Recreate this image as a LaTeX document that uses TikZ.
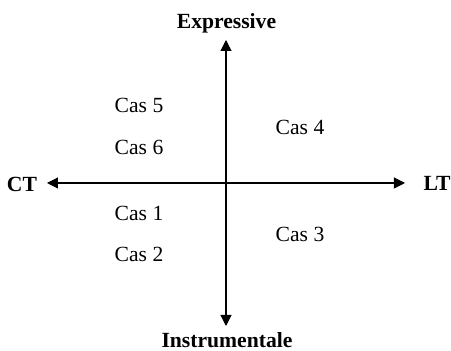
\documentclass[tikz,border=0pt]{standalone}
\usepackage{fontspec}
\setmainfont{Liberation Serif}
\usetikzlibrary{arrows.meta}

\begin{document}
\begin{tikzpicture}[
    every node/.style={font=\fontsize{12.3}{14}\selectfont, inner sep=0pt},
    axis/.style={black, line width=0.6pt, {Triangle[length=0.22cm, width=0.22cm]}-{Triangle[length=0.22cm, width=0.22cm]}},
    pole/.style={font=\fontsize{12.3}{14}\selectfont\bfseries},
    cas/.style={anchor=center},
]

\useasboundingbox (0, 0) rectangle (9.02, 7.02);

% ============================================================ the two axes
\coordinate (top)    at (4.52, 6.22);
\coordinate (bottom) at (4.52, 0.50);
\coordinate (left)   at (0.94, 3.36);
\coordinate (right)  at (8.10, 3.36);

\draw[axis] (top) -- (bottom);
\draw[axis] (left) -- (right);

% ============================================================ pole labels
\node[pole] (expr)  at (4.53, 6.56) {Expressive};
\node[pole] (instr) at (4.54, 0.21) {Instrumentale};
\node[pole] (ct)    at (0.44, 3.34) {CT};
\node[pole] (lt)    at (8.74, 3.36) {LT};

% ============================================================ the cases
\node[cas] (cas5) at (2.78, 4.92) {Cas 5};
\node[cas] (cas6) at (2.78, 4.08) {Cas 6};
\node[cas] (cas1) at (2.78, 2.76) {Cas 1};
\node[cas] (cas2) at (2.78, 1.94) {Cas 2};
\node[cas] (cas4) at (6.00, 4.48) {Cas 4};
\node[cas] (cas3) at (6.00, 2.34) {Cas 3};

\end{tikzpicture}
\end{document}
